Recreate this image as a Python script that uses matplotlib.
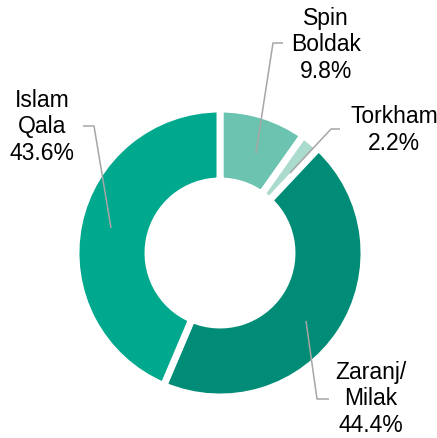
import matplotlib.pyplot as plt

# slices, clockwise from 12 o'clock
names = ['Spin\nBoldak', 'Torkham', 'Zaranj/\nMilak', 'Islam\nQala']
shares = [9.8, 2.2, 44.4, 43.6]
colors = ['#6cc4b0', '#abdbcf', '#008c76', '#00a88e']

# label anchor: centre x and last-line baseline (pixel coords, y from top)
label_pos = [(326, 78), (394, 150), (371, 432), (42, 160)]
leaders = [
    [(283, 43), (273, 43), (256, 153)],
    [(340, 129), (331, 129), (290, 173)],
    [(329, 399), (317, 399), (306, 321)],
    [(83, 126), (94, 126), (111, 228)],
]

W, H = 437, 438
plt.rcParams['font.family'] = ['Liberation Sans', 'DejaVu Sans']

fig = plt.figure(figsize=(W / 100, H / 100), dpi=100)
ax = fig.add_axes([0, 0, 1, 1])

cx, cy = 220, H - 253
ax.pie(shares, colors=colors, startangle=90, counterclock=False,
       radius=144, center=(cx, cy), frame=True,
       wedgeprops=dict(width=72, edgecolor='white', linewidth=5))
ax.set_xlim(0, W)
ax.set_ylim(0, H)
ax.set_aspect('equal')
ax.axis('off')

for pts in leaders:
    xs = [p[0] for p in pts]
    ys = [H - p[1] for p in pts]
    ax.plot(xs, ys, color='#a6a6a6', linewidth=1.1, solid_capstyle='butt')

for name, share, (x, y) in zip(names, shares, label_pos):
    ax.text(x, H - y, f'{name}\n{share}%', ha='center', va='baseline',
            fontsize=16.5, color='black', linespacing=1.2)

plt.savefig('out.png', dpi=100)
